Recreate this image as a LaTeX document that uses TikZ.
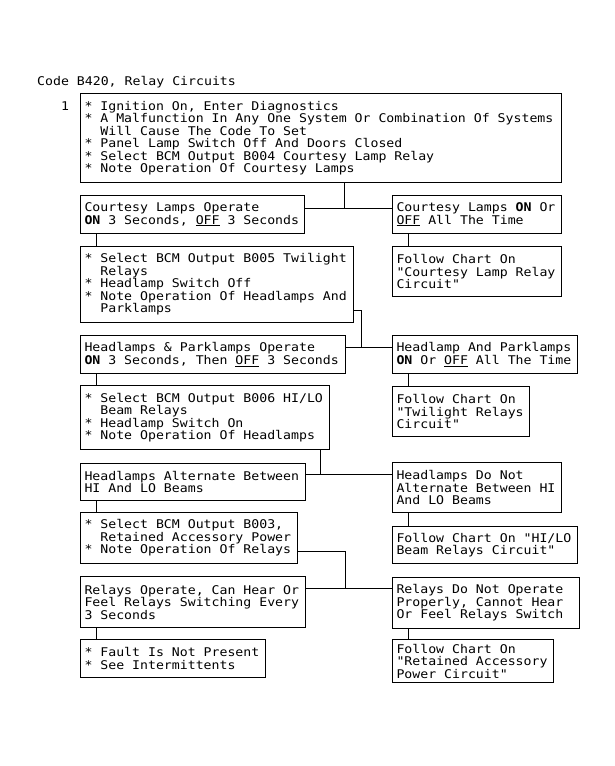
\documentclass[tikz,border=0pt]{standalone}
\usepackage{fontspec}
\newfontfamily\chartfont[FakeStretch=1.1]{DejaVu Sans Mono}
\newcommand{\ind}{\hspace*{15.9pt}}
\newcommand{\bul}{*\ }

\begin{document}
\begin{tikzpicture}[x=1pt,y=-1pt,
  chartbox/.style={draw,black,line width=\lw,rectangle,anchor=north west,
    inner xsep=4pt,inner ysep=2pt,align=left,font=\chartfont\fontsize{12}{12.5}\selectfont,
    execute at begin node={\spaceskip=\fontdimen2\font\xspaceskip=\fontdimen2\font}},
  label/.style={anchor=base west,inner sep=0pt,font=\chartfont\fontsize{12}{12.5}\selectfont}]
\def\lw{1pt}
\useasboundingbox (0,0) rectangle (615,766);
%\draw[red] (0,0) rectangle (615,766);

\node [label, name=title] at (37,85) {Code B420, Relay Circuits};
\node [label, name=step1] at (61,110) {1};

\node [chartbox, text width=473pt, minimum height=89pt, name=s0] at (80,93) {\bul Ignition On, Enter Diagnostics\\
\bul A Malfunction In Any One System Or Combination Of Systems\\
\ind Will Cause The Code To Set\\
\bul Panel Lamp Switch Off And Doors Closed\\
\bul Select BCM Output B004 Courtesy Lamp Relay\\
\bul Note Operation Of Courtesy Lamps};

% left column
\node [chartbox, text width=216pt, minimum height=38pt, name=l1] at (80,195) {Courtesy Lamps Operate\\
\textbf{ON} 3 Seconds, \underline{OFF} 3 Seconds};
\node [chartbox, text width=265pt, minimum height=76pt, name=l2] at (80,246) {\bul Select BCM Output B005 Twilight\\
\ind Relays\\
\bul Headlamp Switch Off\\
\bul Note Operation Of Headlamps And\\
\ind Parklamps};
\node [chartbox, text width=257pt, minimum height=38pt, name=l3] at (80,335) {Headlamps \& Parklamps Operate\\
\textbf{ON} 3 Seconds, Then \underline{OFF} 3 Seconds};
\node [chartbox, text width=241pt, minimum height=64pt, name=l4] at (80,385) {\bul Select BCM Output B006 HI/LO\\
\ind Beam Relays\\
\bul Headlamp Switch On\\
\bul Note Operation Of Headlamps};
\node [chartbox, text width=217pt, minimum height=37pt, name=l5] at (80,463) {Headlamps Alternate Between\\
HI And LO Beams};
\node [chartbox, text width=209pt, minimum height=51pt, name=l6] at (80,512) {\bul Select BCM Output B003,\\
\ind Retained Accessory Power\\
\bul Note Operation Of Relays};
\node [chartbox, text width=217pt, minimum height=51pt, name=l7] at (80,576) {Relays Operate, Can Hear Or\\
Feel Relays Switching Every\\
3 Seconds};
\node [chartbox, text width=177pt, minimum height=38pt, name=l8] at (80,639) {\bul Fault Is Not Present\\
\bul See Intermittents};

% right column
\node [chartbox, text width=161pt, minimum height=38pt, name=r1] at (392,195) {Courtesy Lamps \textbf{ON} Or\\
\underline{OFF} All The Time};
\node [chartbox, text width=161pt, minimum height=50pt, name=r2] at (392,246) {Follow Chart On\\
"Courtesy Lamp Relay\\
Circuit"};
\node [chartbox, text width=177pt, minimum height=38pt, name=r3] at (392,335) {Headlamp And Parklamps\\
\textbf{ON} Or \underline{OFF} All The Time};
\node [chartbox, text width=129pt, minimum height=50pt, name=r4] at (392,386) {Follow Chart On\\
"Twilight Relays\\
Circuit"};
\node [chartbox, text width=161pt, minimum height=50pt, name=r5] at (392,462) {Headlamps Do Not\\
Alternate Between HI\\
And LO Beams};
\node [chartbox, text width=177pt, minimum height=37pt, name=r6] at (392,526) {Follow Chart On "HI/LO\\
Beam Relays Circuit"};
\node [chartbox, text width=179pt, minimum height=51pt, name=r7] at (392,577) {Relays Do Not Operate\\
Properly, Cannot Hear\\
Or Feel Relays Switch};
\node [chartbox, text width=153pt, minimum height=43pt, name=r8] at (392,639) {Follow Chart On\\
"Retained Accessory\\
Power Circuit"};

% branch points
\coordinate (j1) at (344,208);
\coordinate (j2) at (361,347);
\coordinate (j3) at (320,474);
\coordinate (j4) at (345,588);

\begin{scope}[line width=\lw]
\draw (s0.south -| j1) -- (j1);
\draw (l1.east |- j1) -- (r1.west |- j1);
\draw ([yshift=13pt]l2.south east) -| (j2);
\draw (l3.east |- j2) -- (r3.west |- j2);
\draw (l4.south -| j3) -- (j3);
\draw (l5.east |- j3) -- (r5.west |- j3);
\draw ([yshift=13pt]l6.south east) -| (j4);
\draw (l7.east |- j4) -- (r7.west |- j4);
\foreach \u/\v in {l1/l2,l3/l4,l5/l6,l7/l8,r1/r2,r3/r4,r5/r6,r7/r8}
  \draw ([xshift=16pt]\u.south west) -- ([xshift=16pt]\v.north west);
\end{scope}
\end{tikzpicture}
\end{document}
